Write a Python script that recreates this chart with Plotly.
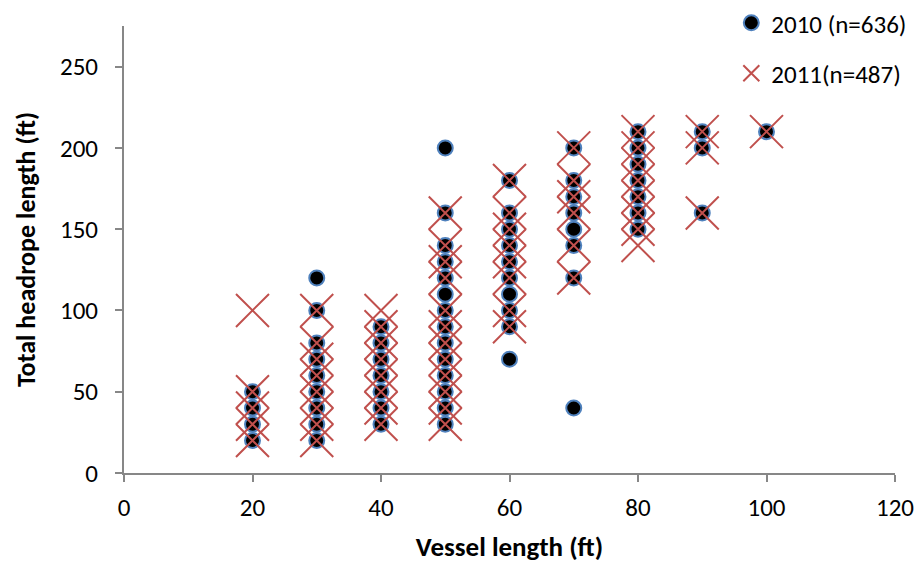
import plotly.graph_objects as go

# Vessel lengths (ft) that have observations
vessel_lengths = [20, 30, 40, 50, 60, 70, 80, 90, 100]

# Headrope lengths (ft) observed at each vessel length, 2010
headrope_2010 = [
    [20, 30, 40, 50],
    [20, 30, 40, 50, 60, 70, 80, 100, 120],
    [30, 40, 50, 60, 70, 80, 90],
    [30, 40, 50, 60, 70, 80, 90, 100, 110, 120, 130, 140, 160, 200],
    [70, 90, 100, 110, 120, 130, 140, 150, 160, 180],
    [40, 120, 140, 150, 160, 170, 180, 200],
    [150, 160, 170, 180, 190, 200, 210],
    [160, 200, 210],
    [210],
]

# Headrope lengths (ft) observed at each vessel length, 2011
headrope_2011 = [
    [20, 30, 40, 50, 100],
    [20, 30, 40, 50, 60, 70, 80, 100],
    [30, 40, 50, 60, 70, 80, 90, 100],
    [30, 40, 50, 60, 70, 80, 90, 100, 120, 130, 140, 160],
    [90, 100, 120, 130, 140, 150, 160, 180],
    [120, 140, 160, 170, 180, 200],
    [140, 150, 160, 170, 180, 190, 200, 210],
    [160, 200, 210],
    [210],
]

x_ticks = [0, 20, 40, 60, 80, 100, 120]
y_ticks = [0, 50, 100, 150, 200, 250]

def flatten(groups):
    xs, ys = [], []
    for v, vals in zip(vessel_lengths, groups):
        for h in vals:
            xs.append(v)
            ys.append(h)
    return xs, ys

x10, y10 = flatten(headrope_2010)
x11, y11 = flatten(headrope_2011)

FONT = "Carlito, Calibri, Lato, sans-serif"

fig = go.Figure()
fig.add_trace(go.Scatter(
    x=x10, y=y10, mode="markers", name="2010 (n=636)",
    legendgroup="a",
    marker=dict(symbol="circle", size=15, color="black",
                line=dict(color="#4F81BD", width=2)),
))
fig.add_trace(go.Scatter(
    x=x11, y=y11, mode="markers", name="2011(n=487)",
    legendgroup="b",
    marker=dict(symbol="x-thin", size=33, color="#C0504D",
                line=dict(color="#C0504D", width=2)),
))

axis_common = dict(
    showgrid=False, zeroline=False, showline=True,
    linecolor="#878787", linewidth=2,
    ticks="outside", ticklen=7, tickwidth=2, tickcolor="#878787",
    tickfont=dict(family=FONT, size=25, color="black"),
    automargin=False,
)

fig.update_layout(
    width=917, height=563,
    margin=dict(l=124, r=22, t=26, b=90, autoexpand=False),
    paper_bgcolor="white", plot_bgcolor="white",
    font=dict(family=FONT, color="black"),
    xaxis=dict(range=[0, 120], tickvals=x_ticks, ticklabelstandoff=4,
               **axis_common,
               title=dict(text="<b>Vessel length (ft)</b>",
                          font=dict(family=FONT, size=27), standoff=15)),
    yaxis=dict(range=[0, 275], tickvals=y_ticks, ticklabelstandoff=12,
               **axis_common,
               title=dict(text="<b>Total headrope length (ft)</b>",
                          font=dict(family=FONT, size=26), standoff=17)),
    legend=dict(xref="container", yref="container",
                x=0.7975, y=1.042, xanchor="left", yanchor="top",
                font=dict(family=FONT, size=25, color="black"),
                bgcolor="rgba(0,0,0,0)", tracegroupgap=15,
                itemwidth=30),
    showlegend=True,
)

fig.write_html("out.html",
               config={"displayModeBar": False},
               post_script="document.body.style.margin='0';")
